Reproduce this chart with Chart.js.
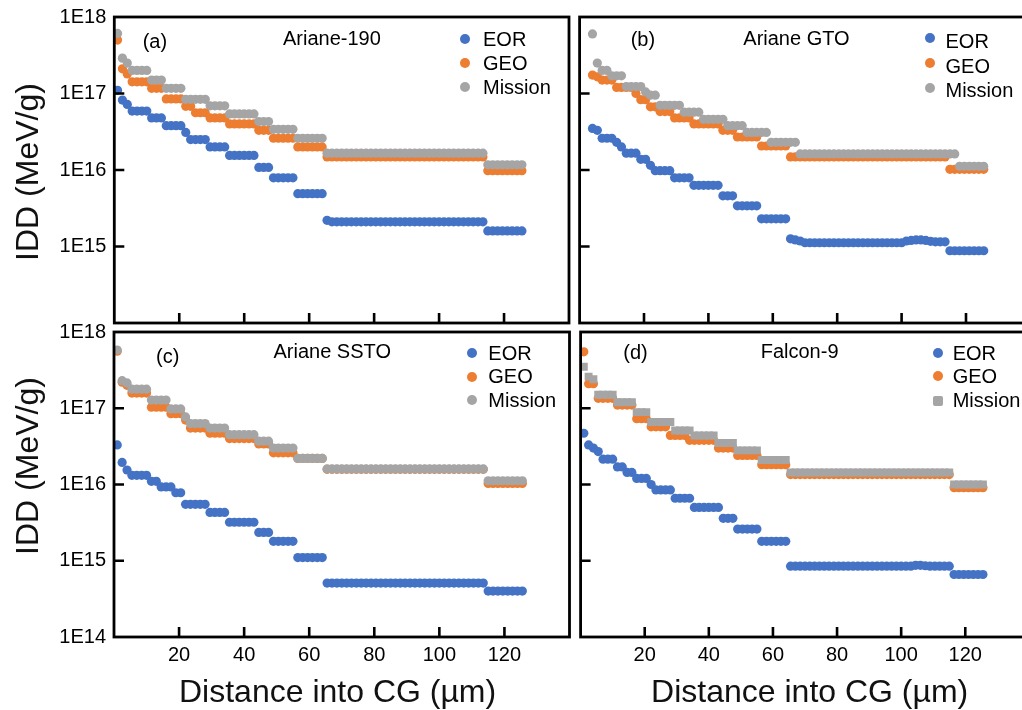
<!DOCTYPE html>
<html>
<head>
<meta charset="utf-8">
<script src="https://cdn.jsdelivr.net/npm/chart.js@4.4.1/dist/chart.umd.min.js"></script>
<style>
  body { margin: 0; background: #fff; }
  #wrap { position: relative; width: 1022px; height: 710px; overflow: hidden; background: #fff; }
  canvas { position: absolute; }
  .t { position: absolute; font-family: 'Liberation Sans', Arial, sans-serif; font-size: 20px; line-height: 20px; color: #000; white-space: nowrap; }
  .big { font-size: 32px; line-height: 32px; color: #111; }
  .dot { position: absolute; width: 10px; height: 10px; border-radius: 50%; }
</style>
</head>
<body>
<div id="wrap">
  <canvas id="pa" width="575" height="330" style="left:0;top:0"></canvas>
  <canvas id="pb" width="460" height="330" style="left:575px;top:0"></canvas>
  <canvas id="pc" width="575" height="405" style="left:0;top:305px"></canvas>
  <canvas id="pd" width="460" height="405" style="left:575px;top:305px"></canvas>

  <!-- axis titles -->
  <div class="t big" style="left:27px;top:171.5px;transform:translate(-50%,-50%) rotate(-90deg)">IDD (MeV/g)</div>
  <div class="t big" style="left:27px;top:466px;transform:translate(-50%,-50%) rotate(-90deg)">IDD (MeV/g)</div>
  <div class="t big" style="left:337.6px;top:674.8px;transform:translateX(-50%)">Distance into CG (µm)</div>
  <div class="t big" style="left:809.7px;top:674.8px;transform:translateX(-50%)">Distance into CG (µm)</div>

  <!-- panel labels -->
  <div class="t" style="left:142.7px;top:30.6px">(a)</div>
  <div class="t" style="left:283px;top:28.1px">Ariane-190</div>
  <div class="t" style="left:630.7px;top:28.9px">(b)</div>
  <div class="t" style="left:743.3px;top:28.1px">Ariane GTO</div>
  <div class="t" style="left:156px;top:345.6px">(c)</div>
  <div class="t" style="left:273.5px;top:341.4px">Ariane SSTO</div>
  <div class="t" style="left:623.3px;top:342px">(d)</div>
  <div class="t" style="left:760.7px;top:341.4px">Falcon-9</div>

  <!-- legends -->
  <span class="dot" style="left:460px;top:33.5px;background:#4472C4"></span>
  <span class="dot" style="left:460px;top:57.5px;background:#ED7D31"></span>
  <span class="dot" style="left:460px;top:81.5px;background:#A5A5A5"></span>
  <div class="t" style="left:483px;top:29px">EOR</div>
  <div class="t" style="left:483px;top:53px">GEO</div>
  <div class="t" style="left:483px;top:77px">Mission</div>

  <span class="dot" style="left:925px;top:33px;background:#4472C4"></span>
  <span class="dot" style="left:925px;top:57.5px;background:#ED7D31"></span>
  <span class="dot" style="left:925px;top:83px;background:#A5A5A5"></span>
  <div class="t" style="left:945.5px;top:31.4px">EOR</div>
  <div class="t" style="left:945.5px;top:55.6px">GEO</div>
  <div class="t" style="left:945.5px;top:79.8px">Mission</div>

  <span class="dot" style="left:466.5px;top:348.3px;background:#4472C4"></span>
  <span class="dot" style="left:466.5px;top:371.7px;background:#ED7D31"></span>
  <span class="dot" style="left:466.5px;top:395px;background:#A5A5A5"></span>
  <div class="t" style="left:488.3px;top:343.1px">EOR</div>
  <div class="t" style="left:488.3px;top:366.4px">GEO</div>
  <div class="t" style="left:488.3px;top:390.4px">Mission</div>

  <span class="dot" style="left:932.7px;top:347.7px;background:#4472C4"></span>
  <span class="dot" style="left:932.7px;top:371px;background:#ED7D31"></span>
  <span class="dot" style="left:932.7px;top:396px;background:#A5A5A5;border-radius:2px"></span>
  <div class="t" style="left:952.7px;top:343px">EOR</div>
  <div class="t" style="left:952.7px;top:366.4px">GEO</div>
  <div class="t" style="left:952.7px;top:390.4px">Mission</div>
</div>

<script>
// depth grid (µm) shared by all four panels
var DEPTH = [1, 2.5, 4, 5.5, 7, 8.5, 10, 11.5, 13, 14.5,
  16, 17.5, 19, 20.5, 22, 23.5, 25, 26.5, 28, 29.5,
  31, 32.5, 34, 35.5, 37, 38.5, 40, 41.5, 43, 44.5,
  46, 47.5, 49, 50.5, 52, 53.5, 55, 56.5, 58, 59.5,
  61, 62.5, 64, 65.5, 67, 68.5, 70, 71.5, 73, 74.5,
  76, 77.5, 79, 80.5, 82, 83.5, 85, 86.5, 88, 89.5,
  91, 92.5, 94, 95.5, 97, 98.5, 100, 101.5, 103, 104.5,
  106, 107.5, 109, 110.5, 112, 113.5, 115, 116.5, 118, 119.5,
  121, 122.5, 124, 125.5];

var X_TICKS = [20, 40, 60, 80, 100, 120];
var Y_TICKS = [1e14, 1e15, 1e16, 1e17, 1e18];
var X_MIN = 0, X_MAX = 140;
var Y_MIN = 1e14, Y_MAX = 1e18;

// (a) Ariane-190
var a_eor = [1.1e17, 8.2e16, 7.2e16, 5.9e16, 5.9e16, 5.9e16, 5.9e16, 4.8e16, 4.8e16, 4.8e16,
  3.8e16, 3.8e16, 3.8e16, 3.8e16, 3.1e16, 2.5e16, 2.5e16, 2.5e16, 2.5e16, 2.0e16,
  2.0e16, 2.0e16, 2.0e16, 1.55e16, 1.55e16, 1.55e16, 1.55e16, 1.55e16, 1.55e16, 1.08e16,
  1.08e16, 1.08e16, 7.9e15, 7.9e15, 7.9e15, 7.9e15, 7.9e15, 4.9e15, 4.9e15, 4.9e15,
  4.9e15, 4.9e15, 4.9e15, 2.2e15, 2.1e15, 2.1e15, 2.1e15, 2.1e15, 2.1e15, 2.1e15,
  2.1e15, 2.1e15, 2.1e15, 2.1e15, 2.1e15, 2.1e15, 2.1e15, 2.1e15, 2.1e15, 2.1e15,
  2.1e15, 2.1e15, 2.1e15, 2.1e15, 2.1e15, 2.1e15, 2.1e15, 2.1e15, 2.1e15, 2.1e15,
  2.1e15, 2.1e15, 2.1e15, 2.1e15, 2.1e15, 2.1e15, 1.6e15, 1.6e15, 1.6e15, 1.6e15,
  1.6e15, 1.6e15, 1.6e15, 1.6e15];
var a_geo = [5.0e17, 2.1e17, 1.8e17, 1.42e17, 1.42e17, 1.42e17, 1.42e17, 1.17e17, 1.17e17, 1.17e17,
  8.5e16, 8.5e16, 8.5e16, 8.5e16, 6.8e16, 6.8e16, 5.6e16, 5.6e16, 5.6e16, 4.8e16,
  4.8e16, 4.8e16, 4.8e16, 4.0e16, 4.0e16, 4.0e16, 4.0e16, 4.0e16, 4.0e16, 3.3e16,
  3.3e16, 3.3e16, 2.6e16, 2.6e16, 2.6e16, 2.6e16, 2.6e16, 2.0e16, 2.0e16, 2.0e16,
  2.0e16, 2.0e16, 2.0e16, 1.48e16, 1.48e16, 1.48e16, 1.48e16, 1.48e16, 1.48e16, 1.48e16,
  1.48e16, 1.48e16, 1.48e16, 1.48e16, 1.48e16, 1.48e16, 1.48e16, 1.48e16, 1.48e16, 1.48e16,
  1.48e16, 1.48e16, 1.48e16, 1.48e16, 1.48e16, 1.48e16, 1.48e16, 1.48e16, 1.48e16, 1.48e16,
  1.48e16, 1.48e16, 1.48e16, 1.48e16, 1.48e16, 1.48e16, 9.8e15, 9.8e15, 9.8e15, 9.8e15,
  9.8e15, 9.8e15, 9.8e15, 9.8e15];
var a_mis = [6.1e17, 2.9e17, 2.5e17, 2.0e17, 2.0e17, 2.0e17, 2.0e17, 1.5e17, 1.5e17, 1.5e17,
  1.17e17, 1.17e17, 1.17e17, 1.17e17, 8.4e16, 8.4e16, 8.4e16, 8.4e16, 8.4e16, 6.9e16,
  6.9e16, 6.9e16, 6.9e16, 5.4e16, 5.4e16, 5.4e16, 5.4e16, 5.4e16, 5.4e16, 4.3e16,
  4.3e16, 4.3e16, 3.4e16, 3.4e16, 3.4e16, 3.4e16, 3.4e16, 2.6e16, 2.6e16, 2.6e16,
  2.6e16, 2.6e16, 2.6e16, 1.66e16, 1.66e16, 1.66e16, 1.66e16, 1.66e16, 1.66e16, 1.66e16,
  1.66e16, 1.66e16, 1.66e16, 1.66e16, 1.66e16, 1.66e16, 1.66e16, 1.66e16, 1.66e16, 1.66e16,
  1.66e16, 1.66e16, 1.66e16, 1.66e16, 1.66e16, 1.66e16, 1.66e16, 1.66e16, 1.66e16, 1.66e16,
  1.66e16, 1.66e16, 1.66e16, 1.66e16, 1.66e16, 1.66e16, 1.17e16, 1.17e16, 1.17e16, 1.17e16,
  1.17e16, 1.17e16, 1.17e16, 1.17e16];

// (b) Ariane GTO
var b_eor = [null, null, 3.5e16, 3.3e16, 2.6e16, 2.6e16, 2.6e16, 2.3e16, 2.0e16, 1.66e16,
  1.66e16, 1.66e16, 1.38e16, 1.38e16, 1.15e16, 9.8e15, 9.8e15, 9.8e15, 9.8e15, 7.9e15,
  7.9e15, 7.9e15, 7.9e15, 6.3e15, 6.3e15, 6.3e15, 6.3e15, 6.3e15, 6.3e15, 4.6e15,
  4.6e15, 4.6e15, 3.4e15, 3.4e15, 3.4e15, 3.4e15, 3.4e15, 2.3e15, 2.3e15, 2.3e15,
  2.3e15, 2.3e15, 2.3e15, 1.26e15, 1.22e15, 1.18e15, 1.12e15, 1.12e15, 1.12e15, 1.12e15,
  1.12e15, 1.12e15, 1.12e15, 1.12e15, 1.12e15, 1.12e15, 1.12e15, 1.12e15, 1.12e15, 1.12e15,
  1.12e15, 1.12e15, 1.12e15, 1.12e15, 1.12e15, 1.12e15, 1.12e15, 1.18e15, 1.2e15, 1.22e15,
  1.22e15, 1.2e15, 1.17e15, 1.15e15, 1.15e15, 1.15e15, 8.8e14, 8.8e14, 8.8e14, 8.8e14,
  8.8e14, 8.8e14, 8.8e14, 8.8e14];
var b_geo = [null, null, 1.74e17, 1.65e17, 1.5e17, 1.5e17, 1.5e17, 1.2e17, 1.2e17, 1.2e17,
  1.2e17, 1.0e17, 8.3e16, 8.3e16, 6.7e16, 6.7e16, 5.8e16, 5.8e16, 5.8e16, 4.8e16,
  4.8e16, 4.8e16, 4.8e16, 4.0e16, 4.0e16, 4.0e16, 4.0e16, 4.0e16, 4.0e16, 3.3e16,
  3.3e16, 3.3e16, 2.7e16, 2.7e16, 2.7e16, 2.7e16, 2.7e16, 2.06e16, 2.06e16, 2.06e16,
  2.06e16, 2.06e16, 2.06e16, 1.48e16, 1.48e16, 1.48e16, 1.48e16, 1.48e16, 1.48e16, 1.48e16,
  1.48e16, 1.48e16, 1.48e16, 1.48e16, 1.48e16, 1.48e16, 1.48e16, 1.48e16, 1.48e16, 1.48e16,
  1.48e16, 1.48e16, 1.48e16, 1.48e16, 1.48e16, 1.48e16, 1.48e16, 1.48e16, 1.48e16, 1.48e16,
  1.48e16, 1.48e16, 1.48e16, 1.48e16, 1.48e16, 1.48e16, 1.02e16, 1.02e16, 1.02e16, 1.02e16,
  1.02e16, 1.02e16, 1.02e16, 1.02e16];
var b_mis = [null, null, 6.0e17, 2.5e17, 2.0e17, 2.0e17, 1.7e17, 1.7e17, 1.7e17, 1.23e17,
  1.23e17, 1.23e17, 1.23e17, 1.05e17, 9.5e16, 9.5e16, 7.0e16, 7.0e16, 7.0e16, 7.0e16,
  7.0e16, 5.7e16, 5.7e16, 5.7e16, 5.7e16, 4.6e16, 4.6e16, 4.6e16, 4.6e16, 4.6e16,
  3.8e16, 3.8e16, 3.8e16, 3.8e16, 3.1e16, 3.1e16, 3.1e16, 3.1e16, 3.1e16, 2.3e16,
  2.3e16, 2.3e16, 2.3e16, 2.3e16, 2.3e16, 1.62e16, 1.62e16, 1.62e16, 1.62e16, 1.62e16,
  1.62e16, 1.62e16, 1.62e16, 1.62e16, 1.62e16, 1.62e16, 1.62e16, 1.62e16, 1.62e16, 1.62e16,
  1.62e16, 1.62e16, 1.62e16, 1.62e16, 1.62e16, 1.62e16, 1.62e16, 1.62e16, 1.62e16, 1.62e16,
  1.62e16, 1.62e16, 1.62e16, 1.62e16, 1.62e16, 1.62e16, 1.62e16, 1.62e16, 1.12e16, 1.12e16,
  1.12e16, 1.12e16, 1.12e16, 1.12e16];

// (c) Ariane SSTO
var c_eor = [3.3e16, 1.95e16, 1.55e16, 1.32e16, 1.32e16, 1.32e16, 1.32e16, 1.1e16, 1.1e16, 9.3e15,
  9.3e15, 9.3e15, 7.8e15, 7.8e15, 5.5e15, 5.5e15, 5.5e15, 5.5e15, 5.5e15, 4.3e15,
  4.3e15, 4.3e15, 4.3e15, 3.2e15, 3.2e15, 3.2e15, 3.2e15, 3.2e15, 3.2e15, 2.35e15,
  2.35e15, 2.35e15, 1.8e15, 1.8e15, 1.8e15, 1.8e15, 1.8e15, 1.1e15, 1.1e15, 1.1e15,
  1.1e15, 1.1e15, 1.1e15, 5.1e14, 5.1e14, 5.1e14, 5.1e14, 5.1e14, 5.1e14, 5.1e14,
  5.1e14, 5.1e14, 5.1e14, 5.1e14, 5.1e14, 5.1e14, 5.1e14, 5.1e14, 5.1e14, 5.1e14,
  5.1e14, 5.1e14, 5.1e14, 5.1e14, 5.1e14, 5.1e14, 5.1e14, 5.1e14, 5.1e14, 5.1e14,
  5.1e14, 5.1e14, 5.1e14, 5.1e14, 5.1e14, 5.1e14, 4.0e14, 4.0e14, 4.0e14, 4.0e14,
  4.0e14, 4.0e14, 4.0e14, 4.0e14];
var c_geo = [5.6e17, 2.2e17, 2.0e17, 1.58e17, 1.58e17, 1.58e17, 1.58e17, 1.03e17, 1.03e17, 1.03e17,
  1.03e17, 8.5e16, 8.5e16, 8.5e16, 7.0e16, 5.5e16, 5.5e16, 5.5e16, 5.5e16, 4.7e16,
  4.7e16, 4.7e16, 4.7e16, 4.0e16, 4.0e16, 4.0e16, 4.0e16, 4.0e16, 4.0e16, 3.4e16,
  3.4e16, 3.4e16, 2.6e16, 2.6e16, 2.6e16, 2.6e16, 2.6e16, 2.2e16, 2.2e16, 2.2e16,
  2.2e16, 2.2e16, 2.2e16, 1.58e16, 1.58e16, 1.58e16, 1.58e16, 1.58e16, 1.58e16, 1.58e16,
  1.58e16, 1.58e16, 1.58e16, 1.58e16, 1.58e16, 1.58e16, 1.58e16, 1.58e16, 1.58e16, 1.58e16,
  1.58e16, 1.58e16, 1.58e16, 1.58e16, 1.58e16, 1.58e16, 1.58e16, 1.58e16, 1.58e16, 1.58e16,
  1.58e16, 1.58e16, 1.58e16, 1.58e16, 1.58e16, 1.58e16, 1.03e16, 1.03e16, 1.03e16, 1.03e16,
  1.03e16, 1.03e16, 1.03e16, 1.03e16];
var c_mis = [5.8e17, 2.3e17, 2.15e17, 1.78e17, 1.78e17, 1.78e17, 1.78e17, 1.28e17, 1.28e17, 1.28e17,
  1.28e17, 9.8e16, 9.8e16, 9.8e16, 7.7e16, 6.3e16, 6.3e16, 6.3e16, 6.3e16, 5.5e16,
  5.5e16, 5.5e16, 5.5e16, 4.5e16, 4.5e16, 4.5e16, 4.5e16, 4.5e16, 4.5e16, 3.7e16,
  3.7e16, 3.7e16, 3.0e16, 3.0e16, 3.0e16, 3.0e16, 3.0e16, 2.2e16, 2.2e16, 2.2e16,
  2.2e16, 2.2e16, 2.2e16, 1.6e16, 1.6e16, 1.6e16, 1.6e16, 1.6e16, 1.6e16, 1.6e16,
  1.6e16, 1.6e16, 1.6e16, 1.6e16, 1.6e16, 1.6e16, 1.6e16, 1.6e16, 1.6e16, 1.6e16,
  1.6e16, 1.6e16, 1.6e16, 1.6e16, 1.6e16, 1.6e16, 1.6e16, 1.6e16, 1.6e16, 1.6e16,
  1.6e16, 1.6e16, 1.6e16, 1.6e16, 1.6e16, 1.6e16, 1.12e16, 1.12e16, 1.12e16, 1.12e16,
  1.12e16, 1.12e16, 1.12e16, 1.12e16];

// (d) Falcon-9
var d_eor = [4.7e16, 3.3e16, 3.0e16, 2.7e16, 2.15e16, 2.15e16, 2.15e16, 1.7e16, 1.7e16, 1.44e16,
  1.44e16, 1.2e16, 1.2e16, 1.2e16, 1.0e16, 8.5e15, 8.5e15, 8.5e15, 8.5e15, 6.6e15,
  6.6e15, 6.6e15, 6.6e15, 5.0e15, 5.0e15, 5.0e15, 5.0e15, 5.0e15, 5.0e15, 3.6e15,
  3.6e15, 3.6e15, 2.6e15, 2.6e15, 2.6e15, 2.6e15, 2.6e15, 1.8e15, 1.8e15, 1.8e15,
  1.8e15, 1.8e15, 1.8e15, 8.5e14, 8.5e14, 8.5e14, 8.5e14, 8.5e14, 8.5e14, 8.5e14,
  8.5e14, 8.5e14, 8.5e14, 8.5e14, 8.5e14, 8.5e14, 8.5e14, 8.5e14, 8.5e14, 8.5e14,
  8.5e14, 8.5e14, 8.5e14, 8.5e14, 8.5e14, 8.5e14, 8.5e14, 8.5e14, 8.5e14, 8.7e14,
  8.7e14, 8.6e14, 8.5e14, 8.5e14, 8.5e14, 8.5e14, 8.5e14, 6.6e14, 6.6e14, 6.6e14,
  6.6e14, 6.6e14, 6.6e14, 6.6e14];
var d_geo = [5.5e17, 2.1e17, 2.1e17, 1.35e17, 1.35e17, 1.35e17, 1.35e17, 1.1e17, 1.1e17, 1.1e17,
  1.1e17, 7.3e16, 7.3e16, 7.3e16, 5.7e16, 5.7e16, 5.7e16, 5.7e16, 4.4e16, 4.4e16,
  4.4e16, 4.4e16, 3.8e16, 3.8e16, 3.8e16, 3.8e16, 3.8e16, 3.8e16, 3.0e16, 3.0e16,
  3.0e16, 3.0e16, 2.4e16, 2.4e16, 2.4e16, 2.4e16, 2.4e16, 1.82e16, 1.82e16, 1.82e16,
  1.82e16, 1.82e16, 1.82e16, 1.35e16, 1.35e16, 1.35e16, 1.35e16, 1.35e16, 1.35e16, 1.35e16,
  1.35e16, 1.35e16, 1.35e16, 1.35e16, 1.35e16, 1.35e16, 1.35e16, 1.35e16, 1.35e16, 1.35e16,
  1.35e16, 1.35e16, 1.35e16, 1.35e16, 1.35e16, 1.35e16, 1.35e16, 1.35e16, 1.35e16, 1.35e16,
  1.35e16, 1.35e16, 1.35e16, 1.35e16, 1.35e16, 1.35e16, 1.35e16, 9.1e15, 9.1e15, 9.1e15,
  9.1e15, 9.1e15, 9.1e15, 9.1e15];
var d_mis = [3.5e17, 2.6e17, 2.4e17, 1.5e17, 1.5e17, 1.5e17, 1.5e17, 1.2e17, 1.2e17, 1.2e17,
  1.2e17, 8.9e16, 8.9e16, 8.9e16, 6.6e16, 6.6e16, 6.6e16, 6.6e16, 6.6e16, 5.1e16,
  5.1e16, 5.1e16, 5.1e16, 4.4e16, 4.4e16, 4.4e16, 4.4e16, 4.4e16, 3.5e16, 3.5e16,
  3.5e16, 3.5e16, 2.8e16, 2.8e16, 2.8e16, 2.8e16, 2.8e16, 2.1e16, 2.1e16, 2.1e16,
  2.1e16, 2.1e16, 2.1e16, 1.44e16, 1.44e16, 1.44e16, 1.44e16, 1.44e16, 1.44e16, 1.44e16,
  1.44e16, 1.44e16, 1.44e16, 1.44e16, 1.44e16, 1.44e16, 1.44e16, 1.44e16, 1.44e16, 1.44e16,
  1.44e16, 1.44e16, 1.44e16, 1.44e16, 1.44e16, 1.44e16, 1.44e16, 1.44e16, 1.44e16, 1.44e16,
  1.44e16, 1.44e16, 1.44e16, 1.44e16, 1.44e16, 1.44e16, 1.44e16, 1.0e16, 1.0e16, 1.0e16,
  1.0e16, 1.0e16, 1.0e16, 1.0e16];

var COL_EOR = '#4472C4';
var COL_GEO = '#ED7D31';
var COL_MIS = '#A5A5A5';
var FONT = "'Liberation Sans', Arial, sans-serif";

// box + inward tick marks
var frameTicks = {
  id: 'frameTicks',
  afterDraw: function (chart) {
    var ctx = chart.ctx, a = chart.chartArea;
    ctx.save();
    ctx.strokeStyle = '#000';
    ctx.lineWidth = 2.8;
    ctx.strokeRect(a.left, a.top, a.right - a.left, a.bottom - a.top);
    ctx.lineWidth = 2.6;
    ctx.beginPath();
    Y_TICKS.forEach(function (v) {
      if (v <= Y_MIN || v >= Y_MAX) return;
      var y = chart.scales.y.getPixelForValue(v);
      ctx.moveTo(a.left, y);
      ctx.lineTo(a.left + 10, y);
    });
    X_TICKS.forEach(function (v) {
      var x = chart.scales.x.getPixelForValue(v);
      ctx.moveTo(x, a.bottom);
      ctx.lineTo(x, a.bottom - 10);
    });
    ctx.stroke();
    ctx.restore();
  }
};

function pts(vals) {
  return DEPTH.map(function (x, i) { return { x: x, y: vals[i] }; });
}

function series(label, vals, color, order, style, r) {
  return {
    label: label,
    data: pts(vals),
    backgroundColor: color,
    borderWidth: 0,
    pointRadius: r || 4.6,
    pointHoverRadius: r || 4.6,
    pointStyle: style || 'circle',
    order: order
  };
}

function makePanel(id, eor, geo, mis, o) {
  new Chart(document.getElementById(id), {
    type: 'scatter',
    data: {
      datasets: [
        series('EOR', eor, COL_EOR, 2),
        series('GEO', geo, COL_GEO, 1),
        series('Mission', mis, COL_MIS, 0, o.misStyle, o.misRadius)
      ]
    },
    options: {
      responsive: false,
      animation: false,
      events: [],
      layout: { padding: o.pad },
      plugins: { legend: { display: false }, tooltip: { enabled: false } },
      scales: {
        x: {
          type: 'linear', min: X_MIN, max: X_MAX,
          grid: { display: false, drawTicks: false },
          border: { display: false },
          afterBuildTicks: function (s) { s.ticks = X_TICKS.map(function (v) { return { value: v }; }); },
          afterFit: function (s) { s.height = o.xH; s.paddingLeft = 0; s.paddingRight = 0; s.paddingTop = 0; s.paddingBottom = 0; },
          ticks: {
            display: o.xLabels, padding: 6, color: '#000', maxRotation: 0, autoSkip: false,
            font: { family: FONT, size: 20 },
            callback: function (v) { return String(v); }
          }
        },
        y: {
          type: 'logarithmic', min: Y_MIN, max: Y_MAX,
          grid: { display: false, drawTicks: false },
          border: { display: false },
          afterBuildTicks: function (s) { s.ticks = Y_TICKS.map(function (v) { return { value: v }; }); },
          afterFit: function (s) { s.width = o.yW; s.paddingLeft = 0; s.paddingRight = 0; s.paddingTop = 0; s.paddingBottom = 0; },
          ticks: {
            display: o.yLabels, padding: 8, color: '#000', autoSkip: false,
            font: { family: FONT, size: 20 },
            callback: function (v) {
              var e = Math.round(Math.log10(v));
              if (o.skipBottom && e === 14) return '';
              return '1E' + e;
            }
          }
        }
      }
    },
    plugins: [frameTicks]
  });
}

makePanel('pa', a_eor, a_geo, a_mis, { pad: { left: 0, top: 17, right: 6, bottom: 7 }, yW: 114.3, xH: 0, xLabels: false, yLabels: true, skipBottom: true });
makePanel('pb', b_eor, b_geo, b_mis, { pad: { left: 0, top: 17, right: 3, bottom: 7 }, yW: 2.6, xH: 0, xLabels: false, yLabels: false });
makePanel('pc', c_eor, c_geo, c_mis, { pad: { left: 0, top: 27, right: 5.5, bottom: 0 }, yW: 114, xH: 73, xLabels: true, yLabels: true });
makePanel('pd', d_eor, d_geo, d_mis, { pad: { left: 0, top: 27, right: 3, bottom: 0 }, yW: 2.6, xH: 73, xLabels: true, yLabels: false, misStyle: 'rect', misRadius: 5.6 });
</script>
</body>
</html>
